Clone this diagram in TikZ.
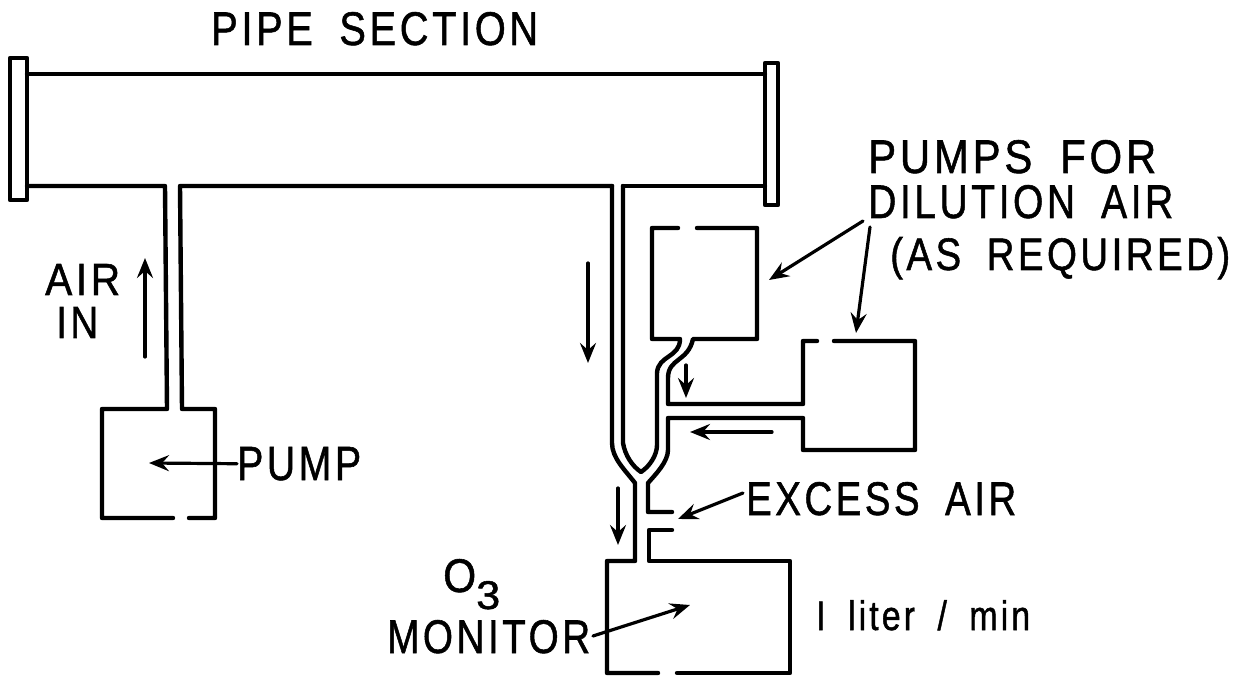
\documentclass[tikz,border=0pt]{standalone}
\usepackage{fontspec}
\usepackage{graphicx}
\setmainfont[LetterSpace=9,FakeBold=1.2,WordSpace=1.8]{Liberation Sans}
\usetikzlibrary{arrows.meta}
\tikzset{
  wall/.style={line width=4.4pt,line join=round,line cap=round,black},
  flow/.style={line width=3.2pt,line cap=round,-{Stealth[length=20pt,width=16pt,inset=7pt]}},
  lab/.style={anchor=base west,inner sep=0pt,font=\fontsize{44}{44}\selectfont}
}
\newcommand{\lbl}[6]{\node[lab] (#1) at (#2,#3) {\resizebox{#4pt}{#5pt}{#6}};}
\begin{document}
\begin{tikzpicture}[x=1pt,y=-1pt]
\useasboundingbox[fill=white] (0,0) rectangle (1240,676);
% pipe section
\draw[wall] (10,58) rectangle (27,200);
\draw[wall] (765,63) rectangle (778,205);
\draw[wall] (27,74) -- (765,74);
% left branch and pump
\draw[wall] (27,186) -- (165,186) -- (167,409) -- (102,409) -- (102,518) -- (173,518);
\draw[wall] (189,518) -- (215,518) -- (215,409) -- (182,409) -- (180,186) -- (612,186);
\draw[wall] (623,186) -- (765,186);
% right branch, outer wall to monitor
\draw[wall] (612,186) -- (612,443) .. controls (612,458) and (625,470) .. (635,483) -- (635,561) -- (607,561) -- (607,673) -- (658,673);
% inner wall and first dilution pump
\draw[wall] (623,186) -- (623,443) .. controls (625,455) and (632,466) .. (641,472) .. controls (650,466) and (657,455) .. (657,445) -- (657,373) .. controls (658,355) and (680,358) .. (680,339) -- (652,339) -- (652,228) -- (678,228);
\draw[wall] (697,228) -- (757,228) -- (757,339) -- (693,339) .. controls (688,362) and (668,358) .. (668,378) -- (668,404) -- (803,404) -- (803,341) -- (817,341);
\draw[wall] (834,341) -- (915,341) -- (915,450) -- (803,450) -- (803,418) -- (668,418) -- (668,450) .. controls (668,462) and (655,475) .. (648,483) -- (648,512) -- (672,512);
\draw[wall] (672,530) -- (649,530) -- (649,561) -- (790,561) -- (790,673) -- (677,673);
% labels
\lbl{lPipe}{211}{45}{327}{33}{PIPE SECTION}
\lbl{lAir}{45}{295}{75}{31}{AIR}
\lbl{lIn}{56}{338}{42}{31}{IN}
\lbl{lPump}{237}{480}{124}{33}{PUMP}
\lbl{lPumps}{868}{173}{288}{33}{PUMPS FOR}
\lbl{lDil}{868}{218}{305}{33}{DILUTION AIR}
\lbl{lReq}{890}{270}{340}{33}{(AS REQUIRED)}
\lbl{lExcess}{746}{515}{270}{33}{EXCESS AIR}
\lbl{lO}{443}{592}{33}{33}{O}
\lbl{lThree}{476}{609}{24}{28}{3}
\lbl{lMon}{387}{653}{203}{33}{MONITOR}
\lbl{lRate}{816}{630}{214}{30}{I liter / min}
% arrow ends
\coordinate (aUpS) at (145,357);
\coordinate (aUpE) at (145,258);
\coordinate (aDnS) at (588,263);
\coordinate (aDnE) at (588,363);
\coordinate (aSmS) at (686,365);
\coordinate (aSmE) at (686,398);
\coordinate (aLfS) at (772,432);
\coordinate (aLfE) at (690,432);
\coordinate (aMnS) at (618,488);
\coordinate (aMnE) at (618,545);
\coordinate (aPuE) at (149,463);
\coordinate (aExS) at (743,493);
\coordinate (aExE) at (678,519);
\coordinate (aMoS) at (593,636);
\coordinate (aMoE) at (690,605);
\coordinate (aD1S) at (863,221);
\coordinate (aD1E) at (769,280);
\coordinate (aD2S) at (870,227);
\coordinate (aD2E) at (856,333);
\draw[flow] (aUpS) -- (aUpE);
\draw[flow] (aDnS) -- (aDnE);
\draw[flow] (aSmS) -- (aSmE);
\draw[flow] (aLfS) -- (aLfE);
\draw[flow] (aMnS) -- (aMnE);
\draw[flow] (lPump.west) -- (aPuE);
\draw[flow] (aExS) -- (aExE);
\draw[flow] (aMoS) -- (aMoE);
\draw[flow] (aD1S) -- (aD1E);
\draw[flow] (aD2S) -- (aD2E);
\end{tikzpicture}
\end{document}
